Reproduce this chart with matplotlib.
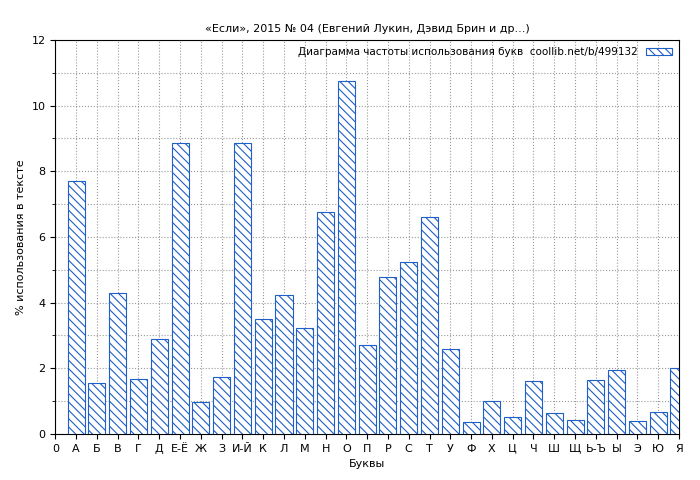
import matplotlib
matplotlib.use("Agg")
import matplotlib.pyplot as plt
from matplotlib.ticker import MultipleLocator

letters = ["А","Б","В","Г","Д","Е-Ё","Ж","З","И-Й","К","Л","М","Н","О","П","Р","С","Т","У","Ф","Х","Ц","Ч","Ш","Щ","Ь-Ъ","Ы","Э","Ю","Я"]
values = [7.7,1.55,4.28,1.68,2.88,8.85,0.98,1.73,8.85,3.5,4.22,3.22,6.75,10.75,2.7,4.78,5.25,6.62,2.58,0.37,1.0,0.52,1.6,0.65,0.42,1.65,1.95,0.4,0.67,2.0]

plt.rcParams['font.family'] = ['DejaVu Sans']
plt.rcParams['hatch.color'] = '#1f5fc8'
plt.rcParams['hatch.linewidth'] = 0.8
fig = plt.figure(figsize=(7, 4.8), dpi=100)
ax = fig.add_axes([0.079, 0.096, 0.891, 0.821])
pos = list(range(1, len(letters) + 1))
ax.bar(pos, values, width=0.82, facecolor='white', edgecolor='#1f5fc8', hatch='\\\\\\\\', linewidth=0.8,
       label='Диаграмма частоты использования букв  coollib.net/b/499132', zorder=3)
ax.set_xlim(0, 30)
ax.set_ylim(0, 12)
ax.set_xticks([0] + pos)
ax.set_xticklabels(["0"] + letters, fontsize=8)
ax.yaxis.set_major_locator(MultipleLocator(2))
ax.yaxis.set_minor_locator(MultipleLocator(1))
ax.tick_params(labelsize=8)
ax.grid(True, which='both', linestyle=':', color='#999999', linewidth=0.8, zorder=0)
ax.set_xlabel('Буквы', fontsize=8)
ax.set_ylabel('% использования в тексте', fontsize=8)
ax.set_title('«Если», 2015 № 04 (Евгений Лукин, Дэвид Брин и др...)', fontsize=8)
leg = ax.legend(loc='upper right', fontsize=7.5, frameon=False, markerfirst=False, handlelength=2.5, borderaxespad=0.3)
fig.savefig('out.png')
